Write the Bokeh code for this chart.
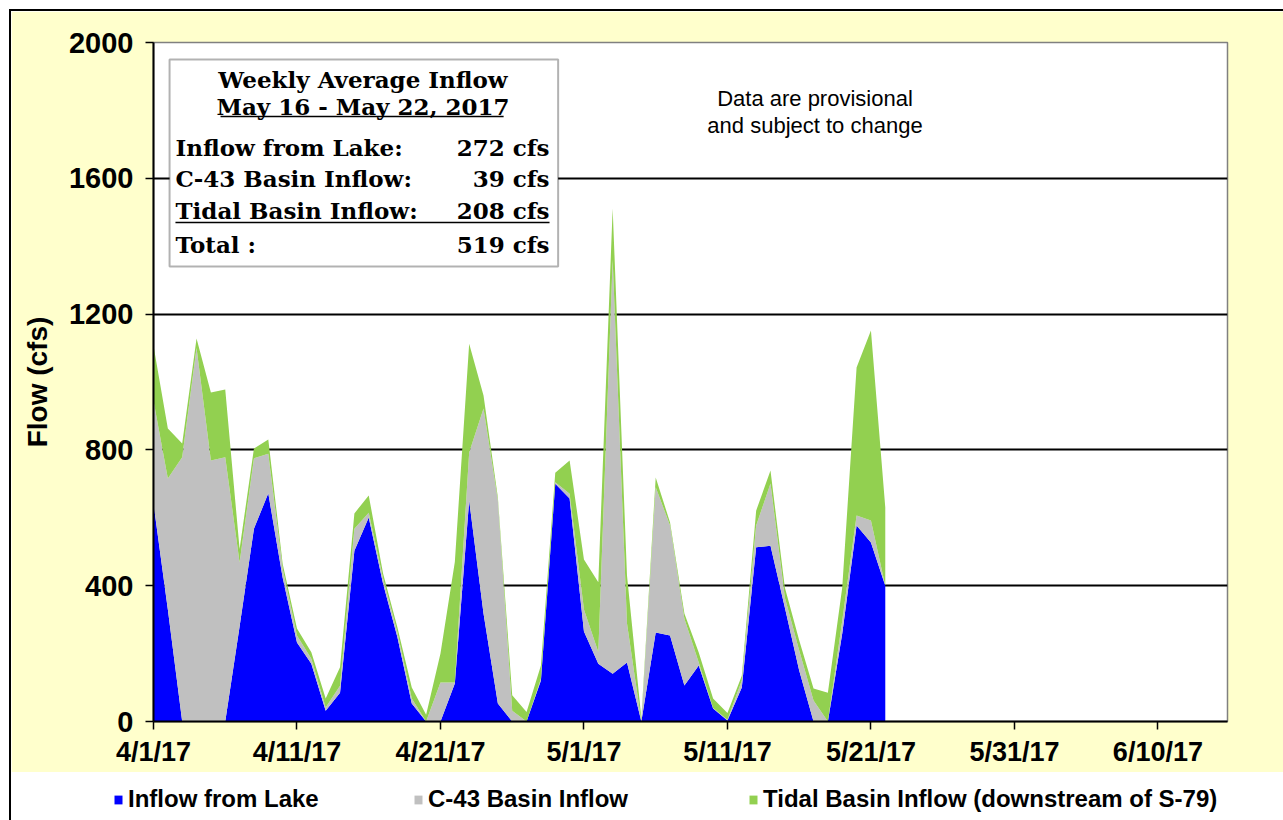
from bokeh.plotting import figure
from bokeh.models import (Range1d, FixedTicker, BoxAnnotation, Label, Legend,
                          LegendItem, ColumnDataSource)
from bokeh.layouts import column
from bokeh.embed import file_html
from bokeh.resources import INLINE

# ---------------- data ----------------
tick_days = [0, 10, 20, 30, 40, 50, 60, 70]
tick_labels = ["4/1/17", "4/11/17", "4/21/17", "5/1/17", "5/11/17",
               "5/21/17", "5/31/17", "6/10/17"]
y_ticks = [0, 400, 800, 1200, 1600, 2000]

days = list(range(52))  # day 0 = 4/1/17 ... day 51 = 5/22/17
inflow_lake = [642, 330, 0, 0, 0, 0, 280, 568, 672, 424,
               233, 170, 32, 85, 503, 601, 406, 248, 53, 0,
               0, 112, 651, 318, 53, 0, 0, 121, 700, 657,
               265, 170, 141, 174, 0, 262, 253, 106, 165, 38,
               3, 100, 513, 518, 336, 150, 0, 0, 259, 577,
               527, 400]
c43_basin = [303, 386, 778, 1100, 769, 778, 188, 207, 117, 26,
             20, 15, 9, 20, 65, 14, 15, 14, 15, 0,
             115, 3, 141, 604, 598, 32, 0, 5, 5, 14,
             65, 35, 1219, 115, 0, 428, 324, 197, 9, 2,
             2, 21, 64, 183, 29, 59, 62, 0, 38, 30,
             65, 0]
tidal_basin = [162, 147, 41, 28, 200, 200, 40, 29, 42, 15,
               21, 19, 27, 55, 45, 51, 15, 15, 32, 20,
               85, 355, 321, 38, 9, 45, 28, 39, 28, 98,
               147, 205, 151, 141, 10, 29, 9, 15, 29, 28,
               20, 14, 44, 38, 30, 30, 35, 85, 98, 436,
               560, 230]

series_names = ["Inflow from Lake", "C-43 Basin Inflow",
                "Tidal Basin Inflow (downstream of S-79)"]
series_colors = ["#0000FF", "#C0C0C0", "#92D050"]

box_title = "Weekly Average Inflow"
box_period = "May 16 - May 22, 2017"
box_rows = ["Inflow from Lake:", "C-43 Basin Inflow:", "Tidal Basin Inflow:", "Total :"]
box_values = ["272 cfs", "39 cfs", "208 cfs", "519 cfs"]
note_lines = ["Data are provisional", "and subject to change"]

# ---------------- main figure ----------------
OX = 11  # page offset of the chart (margin + border)
W = 1283 - OX
src = ColumnDataSource(dict(day=days, lake=inflow_lake, c43=c43_basin, tidal=tidal_basin))

p = figure(width=W, height=772 - OX, output_backend="svg", toolbar_location=None,
           x_range=Range1d(0, 74.85), y_range=Range1d(0, 2000),
           min_border_left=153 - OX, min_border_right=56, min_border_top=42 - OX,
           min_border_bottom=51)
p.frame_align = False
p.border_fill_color = "#FFFFCC"
p.background_fill_color = "white"
p.outline_line_color = "#808080"
p.outline_line_width = 1.5

p.varea_stack(["lake", "c43", "tidal"], x="day", source=src, color=series_colors)

# axes
p.xaxis.ticker = FixedTicker(ticks=tick_days)
p.xaxis.major_label_overrides = {d: l for d, l in zip(tick_days, tick_labels)}
p.yaxis.ticker = FixedTicker(ticks=y_ticks)
for ax in (p.xaxis, p.yaxis):
    ax.axis_line_color = "black"
    ax.axis_line_width = 2
    ax.major_tick_line_color = "black"
    ax.major_tick_line_width = 1.5
    ax.major_tick_out = 8
    ax.major_tick_in = 0
    ax.minor_tick_line_color = None
    ax.major_label_text_font = "Liberation Sans"
    ax.major_label_text_font_style = "bold"
    ax.major_label_text_color = "black"
p.xaxis.major_label_text_font_size = "27px"
p.yaxis.major_label_text_font_size = "29px"
p.yaxis.major_label_standoff = 12
p.xaxis.major_label_standoff = 7
p.yaxis.axis_label = "Flow (cfs)"
p.yaxis.axis_label_text_font = "Liberation Sans"
p.yaxis.axis_label_text_font_style = "bold"
p.yaxis.axis_label_text_font_size = "28px"
p.yaxis.axis_label_text_color = "black"
p.yaxis.axis_label_standoff = 13

p.xgrid.grid_line_color = None
p.ygrid.ticker = FixedTicker(ticks=[400, 800, 1200, 1600])
p.ygrid.grid_line_color = "black"
p.ygrid.grid_line_width = 2

# info box
p.add_layout(BoxAnnotation(left=1.12, right=28.2, bottom=1340, top=1950,
                           fill_color="white", fill_alpha=1.0,
                           line_color="black", line_width=2, level="annotation"))
serif = "DejaVu Serif"
box_font = "23px"
p.add_layout(Label(x=14.6, y=1891, text=box_title, text_font=serif, text_font_style="bold",
                   text_font_size=box_font, text_align="center", text_baseline="middle",
                   text_color="black"))
p.add_layout(Label(x=14.6, y=1812, text=box_period, text_font=serif, text_font_style="bold",
                   text_font_size=box_font, text_align="center", text_baseline="middle",
                   text_color="black"))
row_y = [1691, 1600, 1505, 1404]
for ry, name, val in zip(row_y, box_rows, box_values):
    p.add_layout(Label(x=1.53, y=ry, text=name, text_font=serif, text_font_style="bold",
                       text_font_size=box_font, text_align="left", text_baseline="middle",
                       text_color="black"))
    p.add_layout(Label(x=27.6, y=ry, text=val, text_font=serif, text_font_style="bold",
                       text_font_size=box_font, text_align="right", text_baseline="middle",
                       text_color="black"))
# underlines (drawn above the box)
p.segment(x0=[4.67, 1.53], y0=[1782, 1470], x1=[24.4, 27.6], y1=[1782, 1470],
          line_color="black", line_width=1.5, level="overlay")

for ny, txt in zip([1835, 1756], note_lines):
    p.add_layout(Label(x=46.1, y=ny, text=txt, text_font="Liberation Sans",
                       text_font_size="22px", text_align="center", text_baseline="middle",
                       text_color="black"))

# ---------------- legend strip ----------------
# the same stacked areas are drawn here, out of view, only to feed the legend
q = figure(width=W, height=48, output_backend="svg", toolbar_location=None,
           x_range=Range1d(0, 74.85), y_range=Range1d(5000, 6000),
           min_border_left=0, min_border_right=0, min_border_top=0, min_border_bottom=0)
q.frame_align = False
q.axis.visible = False
q.grid.visible = False
q.outline_line_color = None
q.background_fill_color = "white"
q.border_fill_color = "white"
q_areas = q.varea_stack(["lake", "c43", "tidal"], x="day", source=src, color=series_colors)

leg_x = [113 - OX, 413 - OX, 748 - OX]
for name, r, lx in zip(series_names, q_areas, leg_x):
    lg = Legend(items=[LegendItem(label=name, renderers=[r])], location=(lx, 7),
                glyph_width=10, glyph_height=11, label_standoff=5,
                label_text_font="Liberation Sans", label_text_font_style="bold",
                label_text_font_size="24px", label_text_color="black",
                padding=0, margin=0, border_line_color=None, background_fill_alpha=0)
    q.add_layout(lg)

layout = column(p, q, spacing=0,
                styles={"margin-left": "9px", "margin-top": "9px",
                        "border-left": "2px solid black", "border-top": "2px solid black"})
open("out.html", "w").write(file_html(layout, INLINE))
